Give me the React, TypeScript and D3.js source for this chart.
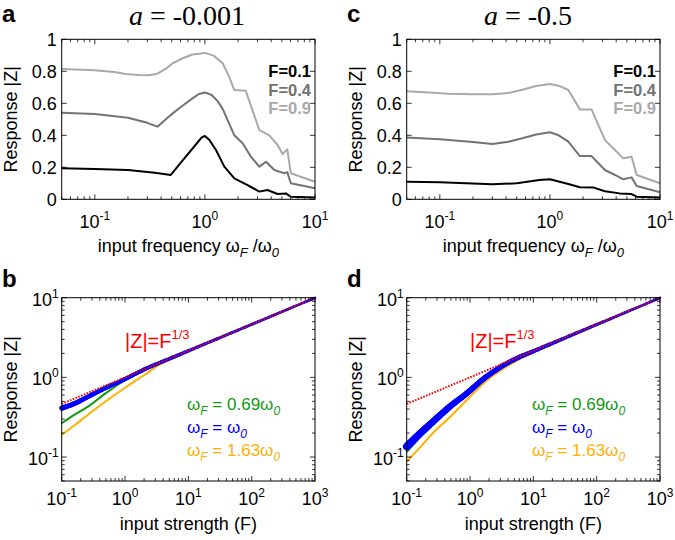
import React from 'react';
import * as d3 from 'd3';

type Pt = [number, number];

// ---------- tick values / labels ----------
const freqTicks = [0.1, 1, 10];
const freqExp = ['-1', '0', '1'];
const linTicks = [0, 0.2, 0.4, 0.6, 0.8, 1];
const linTickLabels = ['0', '0.2', '0.4', '0.6', '0.8', '1'];
const strengthTicks = [0.1, 1, 10, 100, 1000];
const strengthExp = ['-1', '0', '1', '2', '3'];
const respTicks = [0.1, 1, 10];
const respExp = ['-1', '0', '1'];

const forceLabels = ['F=0.1', 'F=0.4', 'F=0.9'];
const forceColors = ['#000000', '#737373', '#a9a9a9'];

// ---------- panel a (a = -0.001): response vs input frequency ----------
const aF01: Pt[] = [[0.05, 0.194], [0.1, 0.19], [0.2, 0.183], [0.35, 0.166], [0.49, 0.152], [0.67, 0.266], [0.8, 0.33], [0.93, 0.385], [1.0, 0.396], [1.1, 0.37], [1.26, 0.308], [1.5, 0.204], [1.85, 0.131], [2.44, 0.089], [3.12, 0.048], [3.7, 0.058], [4.57, 0.033], [5.44, 0.037], [6.03, 0.016], [10, 0.012]];
const aF04: Pt[] = [[0.05, 0.541], [0.1, 0.533], [0.2, 0.51], [0.3, 0.478], [0.37, 0.454], [0.45, 0.505], [0.51, 0.537], [0.6, 0.575], [0.77, 0.631], [0.88, 0.658], [1.0, 0.668], [1.15, 0.652], [1.3, 0.615], [1.45, 0.565], [1.85, 0.4], [2.2, 0.35], [2.62, 0.266], [3.12, 0.204], [3.59, 0.235], [4.27, 0.183], [5.25, 0.163], [5.6, 0.17], [6.03, 0.1], [10, 0.069]];
const aF09: Pt[] = [[0.05, 0.814], [0.1, 0.806], [0.15, 0.795], [0.19, 0.783], [0.25, 0.777], [0.31, 0.776], [0.37, 0.785], [0.44, 0.815], [0.51, 0.85], [0.62, 0.88], [0.77, 0.905], [1.0, 0.915], [1.2, 0.898], [1.45, 0.85], [1.65, 0.77], [1.85, 0.683], [2.35, 0.678], [3.12, 0.433], [3.84, 0.4], [4.57, 0.34], [5.08, 0.283], [5.6, 0.312], [6.03, 0.163], [10, 0.11]];

// ---------- panel c (a = -0.5) ----------
const cF01: Pt[] = [[0.05, 0.11], [0.1, 0.106], [0.3, 0.094], [0.5, 0.1], [0.8, 0.12], [1.0, 0.125], [1.47, 0.096], [1.87, 0.075], [2.5, 0.073], [3.16, 0.05], [4.3, 0.037], [5.52, 0.033], [6.14, 0.016], [10, 0.012]];
const cF04: Pt[] = [[0.05, 0.387], [0.1, 0.375], [0.2, 0.358], [0.3, 0.346], [0.42, 0.36], [0.55, 0.38], [0.75, 0.405], [1.0, 0.419], [1.2, 0.4], [1.47, 0.36], [1.87, 0.27], [2.39, 0.27], [3.16, 0.183], [3.9, 0.152], [4.63, 0.125], [5.52, 0.137], [6.14, 0.083], [10, 0.044]];
const cF09: Pt[] = [[0.05, 0.675], [0.08, 0.668], [0.12, 0.66], [0.2, 0.656], [0.3, 0.656], [0.42, 0.665], [0.55, 0.683], [0.75, 0.708], [1.0, 0.72], [1.2, 0.71], [1.47, 0.683], [1.87, 0.562], [2.39, 0.562], [3.16, 0.37], [3.9, 0.308], [4.63, 0.256], [5.52, 0.266], [6.14, 0.152], [10, 0.1]];

// ---------- |Z| = F^(1/3) reference ----------
const refF = [0.1, 1, 10, 100, 1000];
const refZ = [0.464, 1, 2.154, 4.642, 10];

// ---------- panel b (a = -0.001): response vs input strength ----------
const bGreen: Pt[] = [[0.1, 0.265], [0.16, 0.34], [0.26, 0.43], [0.48, 0.62], [1, 0.92], [1.6, 1.12], [2.5, 1.35], [5, 1.7], [10, 2.15], [100, 4.63], [1000, 9.97]];
const bBlue: Pt[] = [[0.1, 0.41], [0.16, 0.47], [0.26, 0.57], [0.48, 0.73], [0.89, 0.91], [1.6, 1.15], [2.5, 1.36], [5, 1.71], [10, 2.15], [100, 4.62], [1000, 9.95]];
const bOrange: Pt[] = [[0.1, 0.19], [0.16, 0.25], [0.26, 0.34], [0.48, 0.49], [1, 0.74], [1.6, 0.95], [2.2, 1.12], [3.2, 1.38], [5, 1.66], [10, 2.12], [100, 4.6], [1000, 9.9]];

// ---------- panel d (a = -0.5) ----------
const dGreen: Pt[] = [[0.1, 0.115], [0.16, 0.175], [0.26, 0.26], [0.48, 0.41], [0.89, 0.61], [1.6, 0.93], [3, 1.33], [5.5, 1.73], [10, 2.13], [100, 4.62], [1000, 9.97]];
const dBlue: Pt[] = [[0.1, 0.135], [0.16, 0.195], [0.26, 0.278], [0.48, 0.43], [0.89, 0.63], [1.6, 0.946], [3, 1.34], [5.5, 1.74], [10, 2.13], [100, 4.6], [1000, 9.95]];
const dOrange: Pt[] = [[0.1, 0.088], [0.16, 0.13], [0.26, 0.2], [0.48, 0.316], [0.89, 0.52], [1.62, 0.84], [3, 1.21], [5.5, 1.62], [10, 2.05], [100, 4.55], [1000, 9.9]];

const omegaLegend = ['0.69', '', '1.63'];
const omegaColors = ['#109a10', '#0000ff', '#ffb000'];

const FONT = "'Liberation Sans', Arial, Helvetica, sans-serif";
const SERIF = "'Liberation Serif', 'Times New Roman', serif";

function logTickValues(min: number, max: number) {
  const out: { v: number; major: boolean }[] = [];
  for (let d = Math.floor(Math.log10(min)) - 1; d <= Math.ceil(Math.log10(max)); d++) {
    for (let k = 1; k <= 9; k++) {
      const v = k * Math.pow(10, d);
      if (v >= min * 0.999 && v <= max * 1.001) out.push({ v, major: k === 1 });
    }
  }
  return out;
}

function Frame({ x0, x1, y0, y1, xt, yt }: { x0: number; x1: number; y0: number; y1: number; xt: { p: number; major: boolean }[]; yt: { p: number; major: boolean }[] }) {
  const els: JSX.Element[] = [];
  xt.forEach((t, i) => {
    const L = t.major ? 5 : 3;
    els.push(<line key={'xb' + i} x1={t.p} x2={t.p} y1={y0} y2={y0 - L} stroke="#000" strokeWidth={0.8} />);
    els.push(<line key={'xt' + i} x1={t.p} x2={t.p} y1={y1} y2={y1 + L} stroke="#000" strokeWidth={0.8} />);
  });
  yt.forEach((t, i) => {
    const L = t.major ? 5 : 3;
    els.push(<line key={'yl' + i} x1={x0} x2={x0 + L} y1={t.p} y2={t.p} stroke="#000" strokeWidth={0.8} />);
    els.push(<line key={'yr' + i} x1={x1} x2={x1 - L} y1={t.p} y2={t.p} stroke="#000" strokeWidth={0.8} />);
  });
  return (
    <g>
      {els}
      <rect x={x0} y={y1} width={x1 - x0} height={y0 - y1} fill="none" stroke="#000" strokeWidth={1} />
    </g>
  );
}

function TopPanel({ dx, letter, aValue, titleX, series }: { dx: number; letter: string; aValue: string; titleX: number; series: Pt[][] }) {
  const x0 = 61.7 + dx, x1 = 315 + dx, yT = 39.3, yB = 199.3;
  const x = d3.scaleLog().domain([0.05, 10]).range([x0, x1]);
  const y = d3.scaleLinear().domain([0, 1]).range([yB, yT]);
  const line = d3.line<Pt>().x(d => x(d[0])).y(d => y(d[1]));
  const xt = logTickValues(0.05, 10).map(t => ({ p: x(t.v), major: t.major }));
  const yt = linTicks.map(v => ({ p: y(v), major: true }));
  return (
    <g>
      <text x={2 + dx} y={22} fontFamily={FONT} fontWeight="bold" fontSize={24}>{letter}</text>
      <text x={titleX} y={25} fontFamily={SERIF} fontSize={28} textAnchor="middle">
        <tspan fontStyle="italic">a</tspan> = {aValue}
      </text>
      {series.map((s, i) => (
        <path key={i} d={line(s) || ''} fill="none" stroke={forceColors[i]} strokeWidth={2} strokeLinejoin="round" />
      ))}
      <Frame x0={x0} x1={x1} y0={yB} y1={yT} xt={xt} yt={yt} />
      {linTicks.map((v, i) => (
        <text key={i} x={x0 - 5} y={y(v)} dy="0.36em" textAnchor="end" fontFamily={FONT} fontSize={18}>{linTickLabels[i]}</text>
      ))}
      {freqTicks.map((v, i) => (
        <text key={i} x={x(v)} y={yB + 29} textAnchor="middle" fontFamily={FONT} fontSize={18}>
          10<tspan dy={-8} fontSize={12}>{freqExp[i]}</tspan>
        </text>
      ))}
      {forceLabels.map((l, i) => (
        <text key={i} x={311 + dx} y={77 + i * 18.5} textAnchor="end" fontFamily={FONT} fontWeight="bold" fontSize={16.5} fill={forceColors[i]}>{l}</text>
      ))}
      <text transform={`translate(${17 + dx},${(yT + yB) / 2}) rotate(-90)`} textAnchor="middle" fontFamily={FONT} fontSize={18}>Response |Z|</text>
      <text x={(x0 + x1) / 2} y={252} textAnchor="middle" fontFamily={FONT} fontSize={18}>
        input frequency ω<tspan dy={5} fontSize={13} fontStyle="italic">F</tspan><tspan dy={-5}> /ω</tspan><tspan dy={5} fontSize={13} fontStyle="italic">0</tspan>
      </text>
    </g>
  );
}

// Catmull-Rom subdivision in pixel space, for a smooth line of varying width
function ThickLine({ pts, w0, w1, color, xL, xR }: { pts: [number, number][]; w0: number; w1: number; color: string; xL: number; xR: number }) {
  const segs: JSX.Element[] = [];
  const N = 10;
  const P = (i: number) => pts[Math.max(0, Math.min(pts.length - 1, i))];
  const cr = (p0: number, p1: number, p2: number, p3: number, t: number) =>
    0.5 * (2 * p1 + (-p0 + p2) * t + (2 * p0 - 5 * p1 + 4 * p2 - p3) * t * t + (-p0 + 3 * p1 - 3 * p2 + p3) * t * t * t);
  const sample: [number, number][] = [];
  for (let i = 0; i < pts.length - 1; i++) {
    const p0 = P(i - 1), p1 = P(i), p2 = P(i + 1), p3 = P(i + 2);
    for (let k = 0; k < N; k++) {
      const t = k / N;
      sample.push([cr(p0[0], p1[0], p2[0], p3[0], t), cr(p0[1], p1[1], p2[1], p3[1], t)]);
    }
  }
  sample.push(pts[pts.length - 1]);
  for (let i = 0; i < sample.length - 1; i++) {
    const [sx, sy] = sample[i];
    const [ex, ey] = sample[i + 1];
    const u = Math.min(1, Math.max(0, ((sx + ex) / 2 - xL) / (xR - xL)));
    const w = w1 + (w0 - w1) * Math.pow(1 - u, 1.6);
    segs.push(<line key={i} x1={sx} y1={sy} x2={ex} y2={ey} stroke={color} strokeWidth={w} strokeLinecap="round" />);
  }
  return <g>{segs}</g>;
}

function BottomPanel({ dx, letter, green, blue, orange, blueW }: { dx: number; letter: string; green: Pt[]; blue: Pt[]; orange: Pt[]; blueW: number }) {
  const x0 = 61.7 + dx, x1 = 315 + dx, yT = 297.7, yB = 481;
  const x = d3.scaleLog().domain([0.1, 1000]).range([x0, x1]);
  const y = d3.scaleLog().domain([0.05, 10]).range([yB, yT]);
  const line = d3.line<Pt>().x(d => x(d[0])).y(d => y(d[1])).curve(d3.curveMonotoneX);
  const xt = logTickValues(0.1, 1000).map(t => ({ p: x(t.v), major: t.major }));
  const yt = logTickValues(0.05, 10).map(t => ({ p: y(t.v), major: t.major }));
  const refPts: Pt[] = refF.map((f, i) => [f, refZ[i]]);
  const bluePx = blue.map(d => [x(d[0]), y(d[1])] as [number, number]);
  return (
    <g>
      <text x={2 + dx} y={287} fontFamily={FONT} fontWeight="bold" fontSize={24}>{letter}</text>
      <path d={line(green) || ''} fill="none" stroke={omegaColors[0]} strokeWidth={2} strokeLinejoin="round" />
      <path d={line(orange) || ''} fill="none" stroke={omegaColors[2]} strokeWidth={2} strokeLinejoin="round" />
      <ThickLine pts={bluePx} w0={blueW} w1={2.6} color={omegaColors[1]} xL={x0} xR={x1} />
      <path d={d3.line<Pt>().x(d => x(d[0])).y(d => y(d[1]))(refPts) || ''} fill="none" stroke="#ff0000" strokeWidth={2} strokeDasharray="1.6,1.4" />
      <Frame x0={x0} x1={x1} y0={yB} y1={yT} xt={xt} yt={yt} />
      {respTicks.map((v, i) => (
        <text key={i} x={x0 - 3} y={y(v) + 8} textAnchor="end" fontFamily={FONT} fontSize={18}>
          10<tspan dy={-8} fontSize={12}>{respExp[i]}</tspan>
        </text>
      ))}
      {strengthTicks.map((v, i) => (
        <text key={i} x={x(v)} y={yB + 24} textAnchor="middle" fontFamily={FONT} fontSize={18}>
          10<tspan dy={-8} fontSize={12}>{strengthExp[i]}</tspan>
        </text>
      ))}
      <text transform={`translate(${17 + dx},${(yT + yB) / 2}) rotate(-90)`} textAnchor="middle" fontFamily={FONT} fontSize={18}>Response |Z|</text>
      <text x={(x0 + x1) / 2} y={530} textAnchor="middle" fontFamily={FONT} fontSize={18}>input strength (F)</text>
      <text x={125 + dx} y={348} fontFamily={FONT} fontSize={20} fill="#ff0000">
        |Z|=F<tspan dy={-9} fontSize={13}>1/3</tspan>
      </text>
      {omegaLegend.map((c, i) => (
        <text key={i} x={187 + dx} y={410 + i * 23} fontFamily={FONT} fontSize={17} fill={omegaColors[i]}>
          ω<tspan dy={5} fontSize={12} fontStyle="italic">F</tspan><tspan dy={-5}>{' = ' + c}ω</tspan><tspan dy={5} fontSize={12} fontStyle="italic">0</tspan>
        </text>
      ))}
    </g>
  );
}

export default function App() {
  return (
    <svg width={675} height={540} style={{ position: 'absolute', left: 0, top: 0, background: '#fff' }}>
      <rect width={675} height={540} fill="#fff" />
      <TopPanel dx={0} letter="a" aValue="-0.001" titleX={187} series={[aF01, aF04, aF09]} />
      <TopPanel dx={345} letter="c" aValue="-0.5" titleX={528} series={[cF01, cF04, cF09]} />
      <BottomPanel dx={0} letter="b" green={bGreen} blue={bBlue} orange={bOrange} blueW={5} />
      <BottomPanel dx={345} letter="d" green={dGreen} blue={dBlue} orange={dOrange} blueW={7.5} />
    </svg>
  );
}
